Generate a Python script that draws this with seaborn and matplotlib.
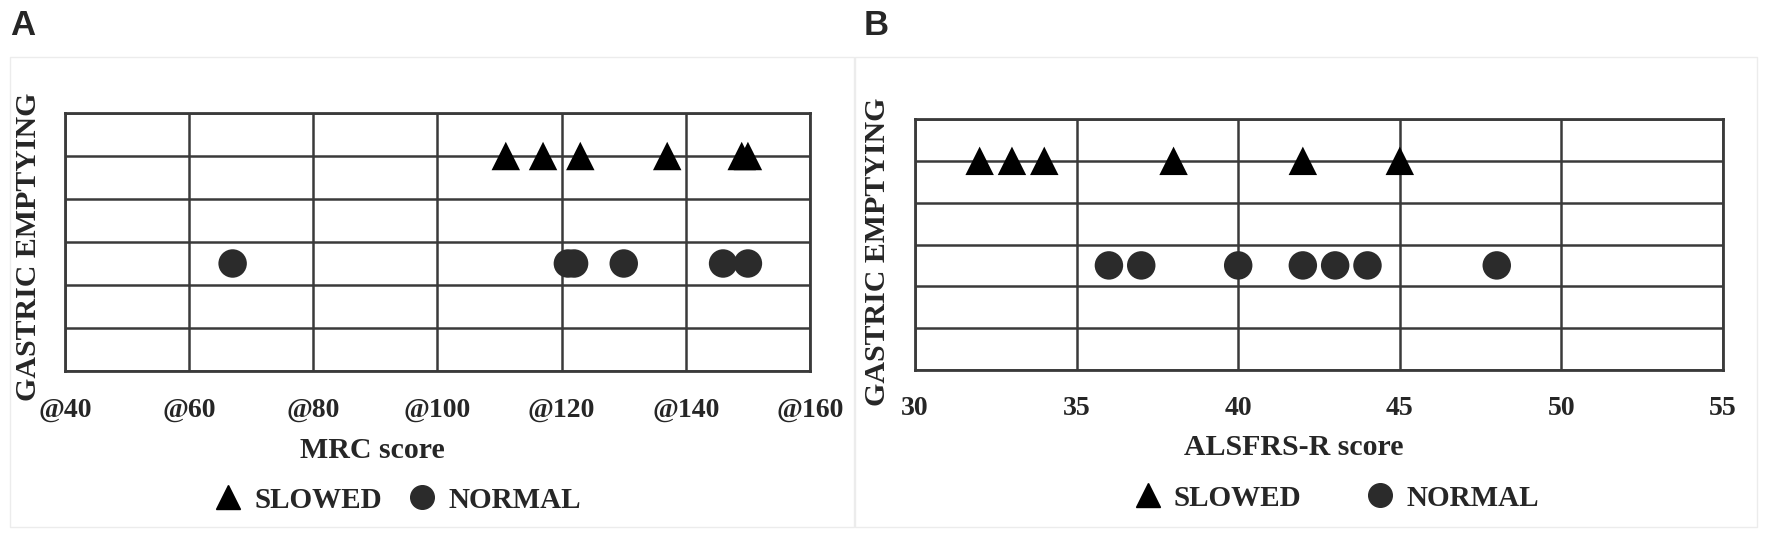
import matplotlib
matplotlib.use("Agg")
import matplotlib.pyplot as plt
from matplotlib.lines import Line2D
from matplotlib.patches import Rectangle
import seaborn as sns
import pandas as pd

# ---- data ----
mrc_slowed = [111, 117, 123, 137, 149, 150]
mrc_normal = [67, 121, 122, 130, 146, 150]
als_slowed = [32, 33, 34, 38, 42, 45]
als_normal = [36, 37, 40, 42, 43, 44, 48]
level_slowed = 5.0
level_normal = 2.5
mrc_ticks = [40, 60, 80, 100, 120, 140, 160]
mrc_ticklabels = ["@40", "@60", "@80", "@100", "@120", "@140", "@160"]
als_ticks = [30, 35, 40, 45, 50, 55]
als_ticklabels = ["30", "35", "40", "45", "50", "55"]
status_names = ["SLOWED", "NORMAL"]

def frame(xs_s, xs_n):
    return pd.DataFrame({
        "score": list(xs_s) + list(xs_n),
        "ge": [level_slowed] * len(xs_s) + [level_normal] * len(xs_n),
        "status": [status_names[0]] * len(xs_s) + [status_names[1]] * len(xs_n),
    })

df_a = frame(mrc_slowed, mrc_normal)
df_b = frame(als_slowed, als_normal)

sns.set_theme(style="white")
plt.rcParams["font.family"] = ["Liberation Serif", "DejaVu Serif"]
plt.rcParams["font.weight"] = "bold"

fig = plt.figure(figsize=(17.72, 5.40), dpi=100)
W, H = 1772.0, 540.0

# panel frames
for (x0, x1) in [(10, 854), (855, 1757)]:
    fig.patches.append(Rectangle((x0 / W, 1 - 527 / H), (x1 - x0) / W, 470 / H,
                                 transform=fig.transFigure, fill=False,
                                 edgecolor="#ececec", linewidth=1.0))

ax_a = fig.add_axes([65 / W, 1 - 371 / H, 745 / W, 258 / H])
ax_b = fig.add_axes([915 / W, 1 - 370 / H, 808 / W, 251 / H])

palette = {"SLOWED": "#000000", "NORMAL": "#2b2b2b"}
markers = {"SLOWED": "^", "NORMAL": "o"}
gridc = "#3a3a3a"

def style(ax, df, ticks, ticklabels, xlabel, lab_x, leg_x, leg_y, colsp):
    sns.scatterplot(data=df, x="score", y="ge", hue="status", style="status",
                    palette=palette, markers=markers, s=420, linewidth=0,
                    legend=False, ax=ax, zorder=3)
    ax.set_xlim(ticks[0], ticks[-1])
    ax.set_ylim(0, 6)
    ax.set_xticks(ticks)
    ax.set_xticklabels(ticklabels, fontsize=20, fontweight="bold")
    ax.set_yticks(range(0, 7))
    ax.set_yticklabels([])
    ax.tick_params(axis="both", length=0)
    ax.tick_params(axis="x", pad=19)
    ax.grid(True, color=gridc, linewidth=1.8)
    ax.set_axisbelow(True)
    for sp in ax.spines.values():
        sp.set_visible(True)
        sp.set_color(gridc)
        sp.set_linewidth(2.0)
    ax.set_xlabel(xlabel, fontsize=21.5, fontweight="bold")
    ax.xaxis.set_label_coords(lab_x, -0.255)
    ax.set_ylabel("GASTRIC EMPTYING", fontsize=21.5, fontweight="bold")
    handles = [Line2D([], [], marker="^", color="#000000", linestyle="none", markersize=17),
               Line2D([], [], marker="o", color="#2b2b2b", linestyle="none", markersize=17)]
    ax.legend(handles, status_names, loc="center", bbox_to_anchor=(leg_x, leg_y),
              ncol=2, frameon=False, handlelength=1.0, handletextpad=0.4,
              columnspacing=colsp,
              prop={"family": "Liberation Serif", "weight": "bold", "size": 21})

style(ax_a, df_a, mrc_ticks, mrc_ticklabels, "MRC score", 0.413, 0.446, -0.50, 0.86)
style(ax_b, df_b, als_ticks, als_ticklabels, "ALSFRS-R score", 0.469, 0.521, -0.51, 2.2)
ax_a.yaxis.set_label_coords(-0.031, 0.48)
ax_b.yaxis.set_label_coords(-0.030, 0.47)

fig.text(10 / W, 1 - 9 / H, "A", fontsize=25, fontweight="bold",
         family=["Liberation Sans", "DejaVu Sans"], va="top", ha="left")
fig.text(864 / W, 1 - 9 / H, "B", fontsize=25, fontweight="bold",
         family=["Liberation Sans", "DejaVu Sans"], va="top", ha="left")

fig.savefig("out.png", dpi=100, facecolor="white")
